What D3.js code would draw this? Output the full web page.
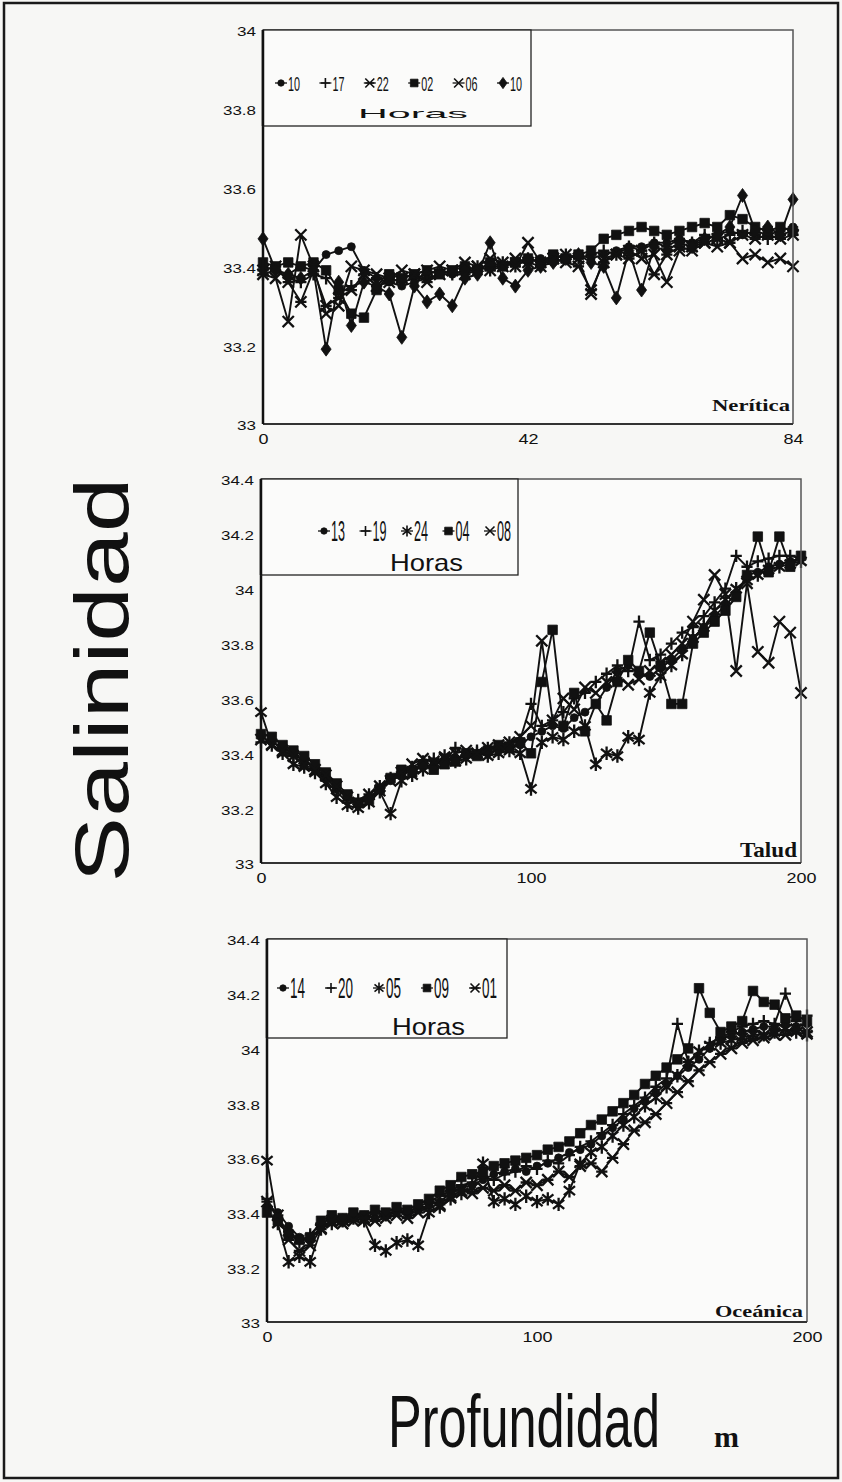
<!DOCTYPE html>
<html>
<head>
<meta charset="utf-8">
<script src="https://cdn.jsdelivr.net/npm/d3@7"></script>
<style>
  html, body { margin: 0; padding: 0; background: #f7f7f5; }
  svg { display: block; }
</style>
</head>
<body>
<svg id="chart" width="842" height="1482"></svg>
<script>
// ---------------- data ----------------
// sampling depths (m)
const depthNeritica = [0,2,4,6,8,10,12,14,16,18,20,22,24,26,28,30,32,34,36,38,40,42,44,46,48,50,52,54,56,58,60,62,64,66,68,70,72,74,76,78,80,82,84];
const depthTalud = [0,4,8,12,16,20,24,28,32,36,40,44,48,52,56,60,64,68,72,76,80,84,88,92,96,100,104,108,112,116,120,124,128,132,136,140,144,148,152,156,160,164,168,172,176,180,184,188,192,196,200];
const depthOceanica = depthTalud;

// hour labels per zone
const horasNeritica = ["10","17","22","02","06","10"];
const horasTalud    = ["13","19","24","04","08"];
const horasOceanica = ["14","20","05","09","01"];

// salinity, Nerítica
const salNer10a = [33.40,33.39,33.38,33.40,33.39,33.43,33.44,33.45,33.39,33.37,33.36,33.35,33.36,33.37,33.38,33.38,33.38,33.39,33.40,33.40,33.41,33.41,33.42,33.41,33.42,33.43,33.42,33.43,33.44,33.45,33.45,33.46,33.46,33.47,33.46,33.47,33.48,33.49,33.48,33.49,33.48,33.49,33.50];
const salNer17  = [33.38,33.39,33.37,33.36,33.38,33.37,33.33,33.35,33.36,33.37,33.37,33.36,33.37,33.38,33.39,33.38,33.39,33.40,33.39,33.41,33.40,33.42,33.41,33.42,33.43,33.42,33.43,33.44,33.43,33.45,33.44,33.46,33.45,33.47,33.46,33.48,33.47,33.48,33.49,33.48,33.47,33.48,33.49];
const salNer22  = [33.39,33.40,33.36,33.31,33.39,33.30,33.32,33.34,33.38,33.35,33.36,33.37,33.38,33.36,33.38,33.39,33.38,33.40,33.39,33.40,33.42,33.41,33.40,33.42,33.41,33.40,33.34,33.41,33.43,33.42,33.44,33.38,33.43,33.45,33.44,33.46,33.47,33.46,33.48,33.47,33.48,33.47,33.48];
const salNer02  = [33.41,33.40,33.41,33.40,33.41,33.39,33.34,33.28,33.27,33.34,33.38,33.37,33.38,33.39,33.38,33.39,33.40,33.39,33.41,33.40,33.41,33.42,33.41,33.43,33.42,33.43,33.44,33.47,33.48,33.49,33.50,33.49,33.48,33.49,33.50,33.51,33.50,33.53,33.52,33.50,33.49,33.50,33.49];
const salNer06  = [33.38,33.37,33.26,33.48,33.40,33.28,33.30,33.40,33.39,33.38,33.37,33.39,33.38,33.39,33.40,33.39,33.41,33.40,33.42,33.41,33.40,33.46,33.41,33.42,33.43,33.42,33.33,33.42,33.43,33.44,33.42,33.43,33.36,33.44,33.45,33.46,33.45,33.46,33.42,33.43,33.41,33.42,33.40];
const salNer10b = [33.47,33.39,33.38,33.37,33.39,33.19,33.36,33.25,33.36,33.35,33.33,33.22,33.35,33.31,33.33,33.30,33.37,33.38,33.46,33.37,33.35,33.39,33.40,33.41,33.42,33.43,33.41,33.40,33.32,33.44,33.34,33.45,33.44,33.46,33.45,33.47,33.48,33.50,33.58,33.49,33.50,33.48,33.57];

// salinity, Talud
const salTal13 = [33.46,33.44,33.42,33.40,33.37,33.35,33.31,33.27,33.24,33.21,33.24,33.27,33.30,33.32,33.34,33.35,33.36,33.37,33.38,33.39,33.40,33.40,33.41,33.42,33.43,33.46,33.48,33.50,33.49,33.53,33.55,33.58,33.64,33.70,33.72,33.69,33.68,33.71,33.74,33.78,33.82,33.86,33.90,33.94,33.98,34.05,34.06,34.08,34.09,34.10,34.11];
const salTal19 = [33.44,33.45,33.41,33.39,33.38,33.34,33.30,33.26,33.22,33.23,33.25,33.28,33.31,33.33,33.35,33.37,33.38,33.37,33.42,33.39,33.41,33.42,33.42,33.44,33.45,33.58,33.50,33.52,33.55,33.60,33.62,33.66,33.69,33.72,33.70,33.88,33.74,33.76,33.80,33.84,33.86,33.90,33.95,34.00,34.12,34.08,34.10,34.11,34.12,34.12,34.11];
const salTal24 = [33.55,33.43,33.40,33.36,33.35,33.33,33.29,33.24,33.21,33.20,33.22,33.26,33.18,33.30,33.32,33.34,33.36,33.39,33.37,33.38,33.40,33.39,33.40,33.41,33.40,33.27,33.44,33.46,33.45,33.48,33.50,33.36,33.40,33.39,33.46,33.45,33.62,33.68,33.72,33.76,33.82,33.86,33.92,33.96,34.00,34.03,34.05,34.07,34.08,34.09,34.10];
const salTal04 = [33.47,33.46,33.43,33.41,33.39,33.36,33.33,33.29,33.25,33.22,33.23,33.27,33.31,33.34,33.33,33.36,33.34,33.36,33.37,33.40,33.39,33.41,33.43,33.42,33.44,33.40,33.66,33.85,33.50,33.62,33.48,33.58,33.52,33.66,33.74,33.70,33.84,33.72,33.58,33.58,33.80,33.84,33.88,33.92,33.97,34.05,34.19,34.06,34.19,34.08,34.12];
const salTal08 = [33.45,33.43,33.41,33.39,33.36,33.34,33.32,33.28,33.24,33.22,33.25,33.28,33.30,33.33,33.36,33.38,33.37,33.38,33.40,33.41,33.40,33.42,33.43,33.44,33.46,33.50,33.81,33.52,33.60,33.56,33.64,33.62,33.66,33.68,33.65,33.67,33.70,33.73,33.76,33.80,33.88,33.96,34.05,33.98,33.70,34.02,33.77,33.73,33.88,33.84,33.62];

// salinity, Oceánica
const salOce14 = [33.42,33.40,33.35,33.31,33.30,33.35,33.37,33.38,33.38,33.39,33.38,33.39,33.40,33.40,33.41,33.43,33.44,33.47,33.49,33.50,33.52,33.54,33.55,33.56,33.55,33.57,33.58,33.60,33.62,33.63,33.65,33.68,33.71,33.74,33.78,33.81,33.84,33.87,33.90,33.93,33.96,34.00,34.03,34.05,34.06,34.07,34.08,34.08,34.09,34.08,34.09];
const salOce20 = [33.45,33.38,33.33,33.29,33.32,33.36,33.38,33.37,33.39,33.38,33.40,33.39,33.41,33.40,33.42,33.44,33.46,33.48,33.50,33.51,33.53,33.52,33.54,33.55,33.57,33.56,33.59,33.58,33.61,33.64,33.66,33.69,33.72,33.76,33.79,33.82,33.86,33.89,34.09,33.95,33.98,34.02,34.04,34.06,34.08,34.09,34.10,34.09,34.20,34.10,34.12];
const salOce05 = [33.59,33.36,33.22,33.24,33.22,33.34,33.36,33.37,33.38,33.37,33.28,33.26,33.29,33.30,33.28,33.40,33.42,33.45,33.47,33.49,33.58,33.44,33.45,33.43,33.46,33.44,33.45,33.43,33.48,33.58,33.62,33.64,33.68,33.72,33.75,33.79,33.82,33.86,33.90,33.95,33.99,34.01,34.02,34.03,34.04,34.05,34.05,34.06,34.07,34.06,34.05];
const salOce09 = [33.40,33.37,33.32,33.30,33.31,33.37,33.39,33.38,33.40,33.39,33.41,33.40,33.42,33.41,33.43,33.45,33.48,33.50,33.53,33.54,33.55,33.57,33.58,33.59,33.60,33.61,33.63,33.64,33.66,33.69,33.72,33.74,33.77,33.80,33.83,33.87,33.90,33.93,33.96,34.00,34.22,34.13,34.06,34.08,34.10,34.21,34.17,34.16,34.11,34.12,34.10];
const salOce01 = [33.44,33.39,33.30,33.26,33.28,33.34,33.37,33.36,33.37,33.38,33.37,33.38,33.39,33.38,33.40,33.42,33.43,33.46,33.48,33.47,33.49,33.48,33.50,33.48,33.51,33.50,33.52,33.55,33.53,33.57,33.58,33.55,33.60,33.65,33.70,33.73,33.76,33.80,33.84,33.88,33.92,33.95,33.98,34.00,34.02,34.03,34.04,34.05,34.05,34.07,34.06];

// axis ticks
const xTicksNeritica = [0, 42, 84];
const xTicksProfundo = [0, 100, 200];
const yTicksNeritica = [33, 33.2, 33.4, 33.6, 33.8, 34];
const yTicksProfundo = [33, 33.2, 33.4, 33.6, 33.8, 34, 34.2, 34.4];

// ---------------- layout ----------------
const svg = d3.select("#chart");
const INK = "#111";
const PAPER = "#fbfbfa";

const panels = [
  {
    name: "Nerítica", box: {x0: 263, x1: 793, y0: 30, y1: 424},
    xDomain: [0, 84], yDomain: [33, 34], xTicks: xTicksNeritica, yTicks: yTicksNeritica,
    depth: depthNeritica, horas: horasNeritica,
    values: [salNer10a, salNer17, salNer22, salNer02, salNer06, salNer10b],
    markers: ["dot", "plus", "xbar", "square", "cross", "diamond"],
    legend: {x1: 531, y1: 126, itemX0: 277, step: 44.4, cy: 83, font: 21, labelW: 12,
             horasX0: 358, horasW: 110, horasY: 118, horasFont: 13},
    label: {x: 790, y: 411, font: 17, w: 78}
  },
  {
    name: "Talud", box: {x0: 261, x1: 801, y0: 479, y1: 863},
    xDomain: [0, 200], yDomain: [33, 34.4], xTicks: xTicksProfundo, yTicks: yTicksProfundo,
    depth: depthTalud, horas: horasTalud,
    values: [salTal13, salTal19, salTal24, salTal04, salTal08],
    markers: ["dot", "plus", "star", "square", "cross"],
    legend: {x1: 518, y1: 575, itemX0: 320, step: 41.5, cy: 531, font: 29, labelW: 14,
             horasX0: 390, horasW: 73, horasY: 571, horasFont: 24},
    label: {x: 797, y: 857, font: 21, w: 57}
  },
  {
    name: "Oceánica", box: {x0: 267, x1: 807, y0: 939, y1: 1322},
    xDomain: [0, 200], yDomain: [33, 34.4], xTicks: xTicksProfundo, yTicks: yTicksProfundo,
    depth: depthOceanica, horas: horasOceanica,
    values: [salOce14, salOce20, salOce05, salOce09, salOce01],
    markers: ["dot", "plus", "star", "square", "xbar"],
    legend: {x1: 507, y1: 1038, itemX0: 279, step: 48, cy: 988, font: 29, labelW: 15,
             horasX0: 392, horasW: 73, horasY: 1035, horasFont: 24},
    label: {x: 803, y: 1317, font: 17, w: 88}
  }
];

// marker glyphs: filled ones use fill, the rest are stroked
function markerPath(type, s) {
  switch (type) {
    case "dot":     return d3.symbol(d3.symbolCircle, s * s * 1.6)();
    case "square":  return `M${-s*0.85},${-s*0.85}H${s*0.85}V${s*0.85}H${-s*0.85}Z`;
    case "diamond": return `M0,${-s*1.25}L${s*0.9},0L0,${s*1.25}L${-s*0.9},0Z`;
    case "plus":    return `M${-s},0H${s}M0,${-s*1.1}V${s*1.1}`;
    case "cross":   return `M${-s},${-s}L${s},${s}M${-s},${s}L${s},${-s}`;
    case "xbar":    return `M${-s},${-s}L${s},${s}M${-s},${s}L${s},${-s}M${-s},0H${s}`;
    case "star":    return `M${-s},${-s*0.8}L${s},${s*0.8}M${-s},${s*0.8}L${s},${-s*0.8}M0,${-s*1.2}V${s*1.2}`;
  }
}
const filledMarker = t => t === "dot" || t === "square" || t === "diamond";

function drawMarker(g, type, x, y, s, sw) {
  const filled = filledMarker(type);
  g.append("path")
    .attr("d", markerPath(type, s))
    .attr("transform", `translate(${x},${y})`)
    .attr("fill", filled ? INK : "none")
    .attr("stroke", INK)
    .attr("stroke-width", filled ? 0.8 : sw);
}

// width of a numeric label in the plotting font
const numWidth = (str, dw, pw) => str.split("").reduce((w, c) => w + (c === "." ? pw : dw), 0);

// squeeze a text horizontally to a target width (keeps its box honest)
function fitWidth(textSel, w) {
  const node = textSel.node();
  const len = node.getComputedTextLength();
  const x = +textSel.attr("x"), y = +textSel.attr("y");
  const k = w / len;
  textSel.attr("x", 0).attr("y", 0)
    .attr("transform", `translate(${x},${y}) scale(${k},1)`);
}

// outer frame
svg.append("rect")
  .attr("x", 4).attr("y", 3).attr("width", 834).attr("height", 1475)
  .attr("fill", "none").attr("stroke", "#1a1a1a").attr("stroke-width", 2.5);

panels.forEach(p => {
  const g = svg.append("g");
  const b = p.box;
  const x = d3.scaleLinear().domain(p.xDomain).range([b.x0, b.x1]);
  const y = d3.scaleLinear().domain(p.yDomain).range([b.y1, b.y0]);

  // plot area
  g.append("rect")
    .attr("x", b.x0).attr("y", b.y0).attr("width", b.x1 - b.x0).attr("height", b.y1 - b.y0)
    .attr("fill", PAPER);

  // series: connecting line and a marker at each sample
  p.values.forEach((vals, si) => {
    const pts = p.depth.map((d, i) => ({d, v: vals[i]})).filter(o => o.v != null);
    const line = d3.line().x(o => x(o.d)).y(o => y(o.v));
    g.append("path").datum(pts)
      .attr("d", line)
      .attr("fill", "none").attr("stroke", INK).attr("stroke-width", 1.9)
      .attr("stroke-linejoin", "round");
    const mg = g.append("g");
    pts.forEach(o => drawMarker(mg, p.markers[si], x(o.d), y(o.v), 5.6, 2.3));
  });

  // frame
  g.append("path")
    .attr("d", `M${b.x0},${b.y0}H${b.x1}V${b.y1}`)
    .attr("fill", "none").attr("stroke", "#555").attr("stroke-width", 1.5);
  g.append("path")
    .attr("d", `M${b.x0},${b.y1}H${b.x1}`)
    .attr("fill", "none").attr("stroke", "#333").attr("stroke-width", 2);
  g.append("path")
    .attr("d", `M${b.x0},${b.y0}V${b.y1}`)
    .attr("fill", "none").attr("stroke", INK).attr("stroke-width", 2.5);

  // axes
  const fmt = d => String(+d.toFixed(1));
  const yAxis = g.append("g")
    .attr("transform", `translate(${b.x0},0)`)
    .call(d3.axisLeft(y).tickValues(p.yTicks).tickFormat(fmt).tickSize(0).tickPadding(7));
  yAxis.select(".domain").remove();
  yAxis.selectAll("text")
    .attr("font-family", "'Liberation Sans', Arial, sans-serif")
    .attr("font-size", 13).attr("fill", INK).attr("dy", "0.45em")
    .attr("textLength", d => numWidth(fmt(d), 9.5, 4.5))
    .attr("lengthAdjust", "spacingAndGlyphs");

  const xAxis = g.append("g")
    .attr("transform", `translate(0,${b.y1})`)
    .call(d3.axisBottom(x).tickValues(p.xTicks).tickSize(0).tickPadding(10));
  xAxis.select(".domain").remove();
  xAxis.selectAll("text")
    .attr("font-family", "'Liberation Sans', Arial, sans-serif")
    .attr("font-size", 14).attr("fill", INK)
    .attr("textLength", d => numWidth(String(d), 10, 4))
    .attr("lengthAdjust", "spacingAndGlyphs");

  // zone name
  g.append("text")
    .attr("x", p.label.x).attr("y", p.label.y)
    .attr("text-anchor", "end")
    .attr("font-family", "'Liberation Serif', 'Times New Roman', serif")
    .attr("font-weight", "bold").attr("font-size", p.label.font).attr("fill", INK)
    .attr("textLength", p.label.w).attr("lengthAdjust", "spacingAndGlyphs")
    .text(p.name);

  // legend
  const L = p.legend;
  const lg = g.append("g");
  lg.append("rect")
    .attr("x", b.x0).attr("y", b.y0).attr("width", L.x1 - b.x0).attr("height", L.y1 - b.y0)
    .attr("fill", PAPER).attr("stroke", "#222").attr("stroke-width", 1.3);
  lg.append("path")
    .attr("d", `M${b.x0},${b.y0}V${L.y1}`)
    .attr("stroke", INK).attr("stroke-width", 2.5);
  p.horas.forEach((h, i) => {
    const x0 = L.itemX0 + i * L.step;
    const mx = x0 + 4;
    lg.append("path")
      .attr("d", `M${mx - 6},${L.cy}H${mx + 6}`)
      .attr("stroke", INK).attr("stroke-width", 1.3);
    drawMarker(lg, p.markers[i], mx, L.cy, 4.5, 1.6);
    lg.append("text")
      .attr("x", x0 + 11).attr("y", L.cy + L.font * 0.36)
      .attr("font-family", "'Liberation Sans Narrow', 'Liberation Sans', Arial, sans-serif")
      .attr("font-size", L.font).attr("fill", INK)
      .attr("textLength", L.labelW).attr("lengthAdjust", "spacingAndGlyphs")
      .text(h);
  });
  lg.append("text")
    .attr("x", L.horasX0).attr("y", L.horasY)
    .attr("font-family", "'Liberation Sans', Arial, sans-serif")
    .attr("font-size", L.horasFont).attr("fill", INK)
    .attr("textLength", L.horasW).attr("lengthAdjust", "spacingAndGlyphs")
    .text("Horas");
});

// axis titles
svg.append("text")
  .attr("transform", "translate(128,680) rotate(-90)")
  .attr("text-anchor", "middle")
  .attr("font-family", "'Liberation Sans', Arial, sans-serif")
  .attr("font-size", 76).attr("fill", INK)
  .attr("textLength", 405).attr("lengthAdjust", "spacingAndGlyphs")
  .text("Salinidad");

const prof = svg.append("text")
  .attr("x", 388).attr("y", 1447)
  .attr("font-family", "'Liberation Sans Narrow', 'Liberation Sans', Arial, sans-serif")
  .attr("font-size", 74).attr("fill", INK)
  .text("Profundidad");
fitWidth(prof, 272);

svg.append("text")
  .attr("x", 714).attr("y", 1447)
  .attr("font-family", "'Liberation Serif', 'Times New Roman', serif")
  .attr("font-weight", "bold").attr("font-size", 30).attr("fill", INK)
  .text("m");
</script>
</body>
</html>
